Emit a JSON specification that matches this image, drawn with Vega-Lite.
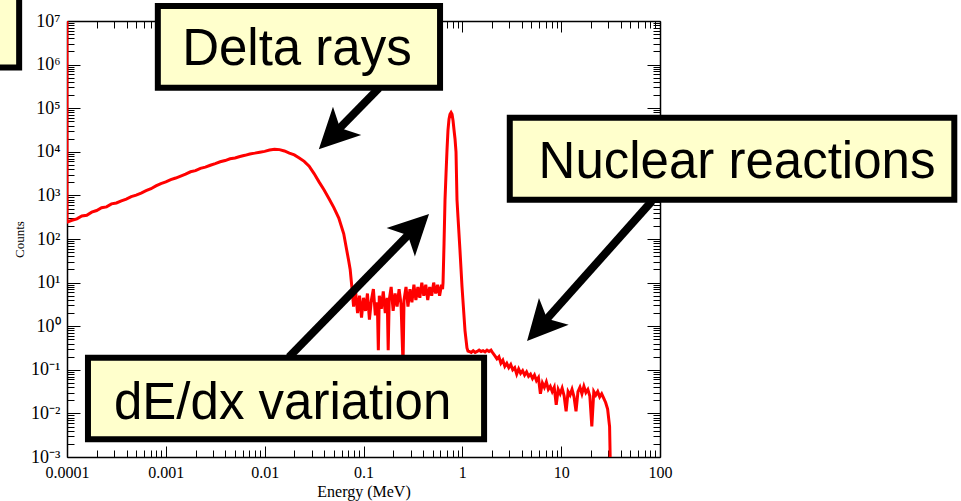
{
  "$schema": "https://vega.github.io/schema/vega-lite/v6.json",
  "width": 593,
  "height": 436,
  "autosize": {"type": "none"},
  "padding": {"left": 67, "top": 21, "right": 301, "bottom": 44},
  "background": "white",
  "config": {
    "view": {"stroke": null},
    "axis": {
      "grid": false, "domainColor": "black", "domainWidth": 1.5, "tickColor": "black", "tickWidth": 1,
      "labelFont": "Liberation Serif", "labelColor": "black", "titleFont": "Liberation Serif",
      "titleColor": "black", "titleFontWeight": "normal", "labelOverlap": false, "labelFlush": false, "labelBound": false
    }
  },
  "datasets": {
    "spectrum": [
      {"E": 0.0001, "C": 1e9}, {"E": 0.0001, "C": 245}, {"E": 0.0001122, "C": 269}, {"E": 0.0001259, "C": 290},
      {"E": 0.0001413, "C": 338}, {"E": 0.0001585, "C": 350}, {"E": 0.0001778, "C": 412}, {"E": 0.0001995, "C": 450},
      {"E": 0.0002239, "C": 520}, {"E": 0.0002512, "C": 545}, {"E": 0.0002818, "C": 640}, {"E": 0.0003162, "C": 670},
      {"E": 0.0003548, "C": 750}, {"E": 0.0003981, "C": 825}, {"E": 0.0004467, "C": 940}, {"E": 0.0005012, "C": 1015},
      {"E": 0.0005623, "C": 1130}, {"E": 0.000631, "C": 1280}, {"E": 0.0007079, "C": 1420}, {"E": 0.0007943, "C": 1650},
      {"E": 0.0008913, "C": 1870}, {"E": 0.001, "C": 2042}, {"E": 0.001122, "C": 2300}, {"E": 0.001259, "C": 2500},
      {"E": 0.001413, "C": 2770}, {"E": 0.001585, "C": 3080}, {"E": 0.001778, "C": 3480}, {"E": 0.001995, "C": 3700},
      {"E": 0.002239, "C": 4180}, {"E": 0.002512, "C": 4450}, {"E": 0.002818, "C": 4910}, {"E": 0.003162, "C": 5360},
      {"E": 0.003548, "C": 5900}, {"E": 0.003981, "C": 6300}, {"E": 0.004467, "C": 6930}, {"E": 0.005012, "C": 7230},
      {"E": 0.005623, "C": 7780}, {"E": 0.00631, "C": 8300}, {"E": 0.007079, "C": 8930}, {"E": 0.007943, "C": 9320},
      {"E": 0.008913, "C": 9790}, {"E": 0.01, "C": 10230}, {"E": 0.01122, "C": 10960}, {"E": 0.01259, "C": 11480},
      {"E": 0.01413, "C": 11220}, {"E": 0.01585, "C": 10470}, {"E": 0.01778, "C": 9333}, {"E": 0.01995, "C": 8511},
      {"E": 0.02239, "C": 7244}, {"E": 0.02512, "C": 6026}, {"E": 0.02818, "C": 4677}, {"E": 0.03162, "C": 3162},
      {"E": 0.03548, "C": 2042}, {"E": 0.03981, "C": 1349}, {"E": 0.04467, "C": 851}, {"E": 0.05012, "C": 525},
      {"E": 0.05623, "C": 302}, {"E": 0.0631, "C": 132}, {"E": 0.0676, "C": 56.2}, {"E": 0.0708, "C": 31.6},
      {"E": 0.0733, "C": 20}, {"E": 0.0759, "C": 8.9},
      {"E": 0.0794, "C": 2.82}, {"E": 0.0832, "C": 6.31}, {"E": 0.0871, "C": 2.0}, {"E": 0.0912, "C": 5.01},
      {"E": 0.0955, "C": 1.58}, {"E": 0.1, "C": 4.47}, {"E": 0.1047, "C": 2.24}, {"E": 0.1096, "C": 5.62},
      {"E": 0.1148, "C": 1.41}, {"E": 0.1202, "C": 3.98}, {"E": 0.1259, "C": 7.08}, {"E": 0.1318, "C": 1.78},
      {"E": 0.138, "C": 3.55}, {"E": 0.1413, "C": 0.282}, {"E": 0.1445, "C": 5.01}, {"E": 0.1514, "C": 2.51},
      {"E": 0.1585, "C": 6.31}, {"E": 0.166, "C": 2.0}, {"E": 0.1738, "C": 4.47}, {"E": 0.1778, "C": 0.282},
      {"E": 0.182, "C": 3.98}, {"E": 0.1905, "C": 7.94}, {"E": 0.1995, "C": 2.24}, {"E": 0.2089, "C": 5.62},
      {"E": 0.2188, "C": 2.82}, {"E": 0.2291, "C": 7.08}, {"E": 0.2399, "C": 3.16}, {"E": 0.2512, "C": 0.126},
      {"E": 0.257, "C": 3.98}, {"E": 0.2692, "C": 7.94}, {"E": 0.2818, "C": 2.82}, {"E": 0.2951, "C": 7.08},
      {"E": 0.309, "C": 3.55}, {"E": 0.3236, "C": 8.91}, {"E": 0.3388, "C": 3.98}, {"E": 0.3548, "C": 7.94},
      {"E": 0.3715, "C": 4.47}, {"E": 0.389, "C": 10.0}, {"E": 0.4074, "C": 5.01}, {"E": 0.4266, "C": 8.91},
      {"E": 0.4467, "C": 3.98}, {"E": 0.4677, "C": 7.94}, {"E": 0.4898, "C": 5.01}, {"E": 0.5129, "C": 10.0},
      {"E": 0.537, "C": 5.62}, {"E": 0.5623, "C": 8.91}, {"E": 0.5888, "C": 5.01}, {"E": 0.6166, "C": 8.91},
      {"E": 0.631, "C": 7.08},
      {"E": 0.638, "C": 10}, {"E": 0.653, "C": 79.4}, {"E": 0.668, "C": 794}, {"E": 0.684, "C": 3162},
      {"E": 0.7, "C": 11220}, {"E": 0.716, "C": 31620}, {"E": 0.733, "C": 56230}, {"E": 0.75, "C": 72440},
      {"E": 0.769, "C": 79430}, {"E": 0.787, "C": 72440}, {"E": 0.805, "C": 52480}, {"E": 0.824, "C": 31620},
      {"E": 0.843, "C": 19950}, {"E": 0.863, "C": 10000}, {"E": 0.883, "C": 794}, {"E": 0.904, "C": 316},
      {"E": 0.946, "C": 56.2}, {"E": 0.993, "C": 7.94}, {"E": 1.064, "C": 0.794}, {"E": 1.114, "C": 0.316},
      {"E": 1.14, "C": 0.269},
      {"E": 1.175, "C": 0.263}, {"E": 1.23, "C": 0.251}, {"E": 1.288, "C": 0.275}, {"E": 1.349, "C": 0.251},
      {"E": 1.413, "C": 0.263}, {"E": 1.479, "C": 0.282}, {"E": 1.549, "C": 0.263}, {"E": 1.622, "C": 0.275},
      {"E": 1.698, "C": 0.257}, {"E": 1.778, "C": 0.282}, {"E": 1.862, "C": 0.263}, {"E": 1.95, "C": 0.282},
      {"E": 2.042, "C": 0.24}, {"E": 2.138, "C": 0.209}, {"E": 2.239, "C": 0.178}, {"E": 2.344, "C": 0.2},
      {"E": 2.455, "C": 0.141}, {"E": 2.57, "C": 0.166}, {"E": 2.692, "C": 0.12}, {"E": 2.818, "C": 0.141},
      {"E": 2.951, "C": 0.112}, {"E": 3.09, "C": 0.132}, {"E": 3.236, "C": 0.1}, {"E": 3.388, "C": 0.112},
      {"E": 3.548, "C": 0.0794}, {"E": 3.715, "C": 0.105}, {"E": 3.89, "C": 0.0832}, {"E": 4.074, "C": 0.0955},
      {"E": 4.266, "C": 0.0759}, {"E": 4.467, "C": 0.0891}, {"E": 4.677, "C": 0.0708}, {"E": 4.898, "C": 0.0794},
      {"E": 5.129, "C": 0.0631}, {"E": 5.37, "C": 0.0759}, {"E": 5.623, "C": 0.0562}, {"E": 5.888, "C": 0.0661},
      {"E": 6.166, "C": 0.0282}, {"E": 6.457, "C": 0.0501}, {"E": 6.761, "C": 0.0398}, {"E": 7.079, "C": 0.0525},
      {"E": 7.413, "C": 0.0355}, {"E": 7.762, "C": 0.0417}, {"E": 8.128, "C": 0.0316}, {"E": 8.511, "C": 0.0398},
      {"E": 8.913, "C": 0.0158}, {"E": 9.333, "C": 0.0355}, {"E": 9.772, "C": 0.0282}, {"E": 10.23, "C": 0.038},
      {"E": 10.72, "C": 0.0251}, {"E": 11.22, "C": 0.0112}, {"E": 11.75, "C": 0.0316}, {"E": 12.3, "C": 0.0263},
      {"E": 12.88, "C": 0.0355}, {"E": 13.49, "C": 0.024}, {"E": 14.13, "C": 0.0112}, {"E": 14.79, "C": 0.0316},
      {"E": 15.49, "C": 0.0398}, {"E": 16.22, "C": 0.0282}, {"E": 16.98, "C": 0.0417}, {"E": 17.78, "C": 0.0302},
      {"E": 18.62, "C": 0.0355}, {"E": 19.5, "C": 0.0251}, {"E": 20.42, "C": 0.005}, {"E": 21.38, "C": 0.0316},
      {"E": 22.39, "C": 0.0263}, {"E": 23.44, "C": 0.0316}, {"E": 24.55, "C": 0.024}, {"E": 25.7, "C": 0.0282},
      {"E": 26.92, "C": 0.0224}, {"E": 28.18, "C": 0.0178}, {"E": 29.51, "C": 0.0126}, {"E": 30.9, "C": 0.005},
      {"E": 31.62, "C": 0.000316}
    ],
    "boxes": [
      {"label": "corner", "E": 0.0000065, "E2": 0.0000328, "C": 4.25e8, "C2": 8.57e5},
      {"label": "Delta rays", "E": 0.00083, "E2": 0.595, "C": 2.2e7, "C2": 2.95e5},
      {"label": "Nuclear reactions", "E": 3.02, "E2": 95000, "C": 60000, "C2": 800},
      {"label": "dE/dx variation", "E": 0.000163, "E2": 1.66, "C": 0.188, "C2": 0.00257}
    ],
    "texts": [
      {"text": "Delta rays", "E": 0.0212, "C": 9.8e5},
      {"text": "Nuclear reactions", "E": 601, "C": 2506},
      {"text": "dE/dx variation", "E": 0.0152, "C": 0.00745}
    ],
    "arrows": [
      {"E": 0.1436, "C": 2.9e5, "E2": 0.0491, "C2": 24270, "angle": 225},
      {"E": 0.01762, "C": 0.1968, "E2": 0.3311, "C2": 177.8, "angle": 45},
      {"E": 83.0, "C": 745, "E2": 6.17, "C2": 1.0, "angle": 222}
    ]
  },
  "layer": [
    {
      "data": {"name": "spectrum"},
      "mark": {"type": "line", "color": "#ff0000", "strokeWidth": 3, "clip": true},
      "encoding": {
        "x": {
          "field": "E", "type": "quantitative",
          "scale": {"type": "log", "domain": [0.0001, 100], "nice": false},
          "axis": {
            "orient": "bottom",
            "values": [0.0001,0.0002,0.0003,0.0004,0.0005,0.0006,0.0007,0.0008,0.0009,0.001,0.002,0.003,0.004,0.005,0.006,0.007,0.008,0.009,0.01,0.02,0.03,0.04,0.05,0.06,0.07,0.08,0.09,0.1,0.2,0.3,0.4,0.5,0.6,0.7,0.8,0.9,1,2,3,4,5,6,7,8,9,10,20,30,40,50,60,70,80,90,100],
            "labelExpr": "abs(log(datum.value)/LN10 - round(log(datum.value)/LN10)) < 0.001 ? format(datum.value, '~g') : ''",
            "tickSize": {"condition": {"test": "abs(log(datum.value)/LN10 - round(log(datum.value)/LN10)) < 0.001", "value": -11}, "value": -7},
            "labelFontSize": 16, "labelPadding": 18,
            "title": "Energy (MeV)", "titleFontSize": 16, "titlePadding": -1
          }
        },
        "y": {
          "field": "C", "type": "quantitative",
          "scale": {"type": "log", "domain": [0.001, 10000000], "nice": false},
          "axis": {
            "orient": "left",
            "values": [0.001,0.002,0.003,0.004,0.005,0.006,0.007,0.008,0.009,0.01,0.02,0.03,0.04,0.05,0.06,0.07,0.08,0.09,0.1,0.2,0.3,0.4,0.5,0.6,0.7,0.8,0.9,1,2,3,4,5,6,7,8,9,10,20,30,40,50,60,70,80,90,100,200,300,400,500,600,700,800,900,1000,2000,3000,4000,5000,6000,7000,8000,9000,10000,20000,30000,40000,50000,60000,70000,80000,90000,100000,200000,300000,400000,500000,600000,700000,800000,900000,1000000,2000000,3000000,4000000,5000000,6000000,7000000,8000000,9000000,10000000],
            "labelExpr": "abs(log(datum.value)/LN10 - round(log(datum.value)/LN10)) < 0.001 ? '10' + (round(log(datum.value)/LN10) < 0 ? '⁻' : '') + substring('⁰¹²³⁴⁵⁶⁷⁸⁹', abs(round(log(datum.value)/LN10)), abs(round(log(datum.value)/LN10)) + 1) : ''",
            "tickSize": {"condition": {"test": "abs(log(datum.value)/LN10 - round(log(datum.value)/LN10)) < 0.001", "value": -13}, "value": -7},
            "labelFontSize": 18, "labelPadding": 20,
            "title": "Counts", "titleFontSize": 13, "titlePadding": 4
          }
        },
        "order": {"value": null}
      }
    },
    {
      "data": {"name": "arrows"},
      "mark": {"type": "rule", "color": "black", "strokeWidth": 8, "strokeCap": "butt"},
      "encoding": {
        "x": {
          "field": "E", "type": "quantitative",
          "scale": {"type": "log", "domain": [0.0001, 100], "nice": false},
          "axis": {
            "orient": "top", "labels": false, "title": null,
            "values": [0.0001,0.0002,0.0003,0.0004,0.0005,0.0006,0.0007,0.0008,0.0009,0.001,0.002,0.003,0.004,0.005,0.006,0.007,0.008,0.009,0.01,0.02,0.03,0.04,0.05,0.06,0.07,0.08,0.09,0.1,0.2,0.3,0.4,0.5,0.6,0.7,0.8,0.9,1,2,3,4,5,6,7,8,9,10,20,30,40,50,60,70,80,90,100],
            "tickSize": {"condition": {"test": "abs(log(datum.value)/LN10 - round(log(datum.value)/LN10)) < 0.001", "value": -11}, "value": -7}
          }
        },
        "y": {
          "field": "C", "type": "quantitative",
          "scale": {"type": "log", "domain": [0.001, 10000000], "nice": false},
          "axis": {
            "orient": "right", "labels": false, "title": null,
            "values": [0.001,0.002,0.003,0.004,0.005,0.006,0.007,0.008,0.009,0.01,0.02,0.03,0.04,0.05,0.06,0.07,0.08,0.09,0.1,0.2,0.3,0.4,0.5,0.6,0.7,0.8,0.9,1,2,3,4,5,6,7,8,9,10,20,30,40,50,60,70,80,90,100,200,300,400,500,600,700,800,900,1000,2000,3000,4000,5000,6000,7000,8000,9000,10000,20000,30000,40000,50000,60000,70000,80000,90000,100000,200000,300000,400000,500000,600000,700000,800000,900000,1000000,2000000,3000000,4000000,5000000,6000000,7000000,8000000,9000000,10000000],
            "tickSize": {"condition": {"test": "abs(log(datum.value)/LN10 - round(log(datum.value)/LN10)) < 0.001", "value": -13}, "value": -7}
          }
        },
        "x2": {"field": "E2"},
        "y2": {"field": "C2"}
      }
    },
    {
      "data": {"name": "arrows"},
      "mark": {"type": "point", "shape": "M0,-1L1,1L0,0.5L-1,1Z", "size": 1600, "filled": true, "color": "black", "opacity": 1, "strokeWidth": 0},
      "encoding": {
        "x": {"field": "E2", "type": "quantitative", "scale": {"type": "log", "domain": [0.0001, 100], "nice": false}, "axis": null},
        "y": {"field": "C2", "type": "quantitative", "scale": {"type": "log", "domain": [0.001, 10000000], "nice": false}, "axis": null},
        "angle": {"field": "angle", "type": "quantitative", "scale": null}
      }
    },
    {
      "data": {"name": "boxes"},
      "mark": {"type": "rect", "fill": "#ffffcc", "stroke": "black", "strokeWidth": 6},
      "encoding": {
        "x": {"field": "E", "type": "quantitative", "scale": {"type": "log", "domain": [0.0001, 100], "nice": false}, "axis": null},
        "x2": {"field": "E2"},
        "y": {"field": "C", "type": "quantitative", "scale": {"type": "log", "domain": [0.001, 10000000], "nice": false}, "axis": null},
        "y2": {"field": "C2"}
      }
    },
    {
      "data": {"name": "texts"},
      "mark": {"type": "text", "font": "Liberation Sans", "fontSize": 51, "align": "center", "baseline": "alphabetic", "color": "black"},
      "encoding": {
        "x": {"field": "E", "type": "quantitative", "scale": {"type": "log", "domain": [0.0001, 100], "nice": false}, "axis": null},
        "y": {"field": "C", "type": "quantitative", "scale": {"type": "log", "domain": [0.001, 10000000], "nice": false}, "axis": null},
        "text": {"field": "text"}
      }
    }
  ],
  "resolve": {"axis": {"x": "independent", "y": "independent"}}
}
